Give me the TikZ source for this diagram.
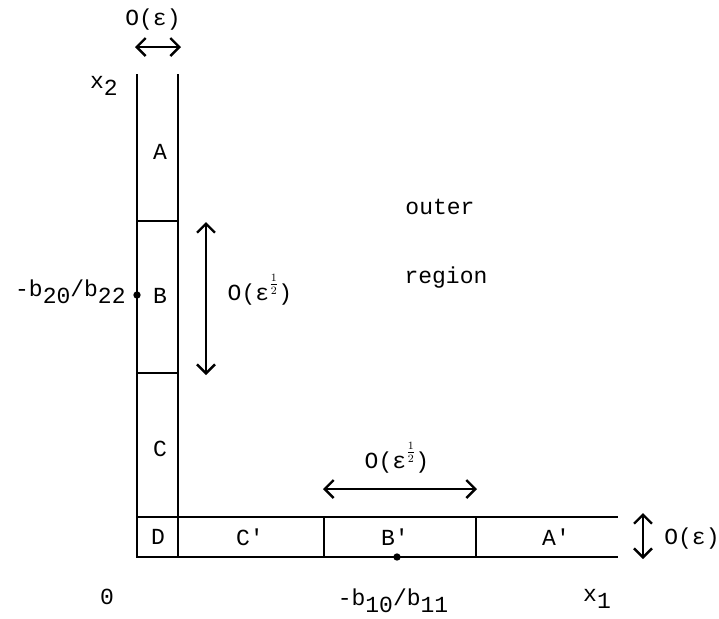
\documentclass[tikz,border=0pt]{standalone}
\usepackage{fontspec}
\setmainfont{Liberation Mono}[Ligatures=TeXOff]
\usetikzlibrary{arrows.meta}
\newcommand{\abajo}[1]{\raisebox{-0.55ex}{#1}}
\newcommand{\mitad}{\raisebox{1.0ex}{\scalebox{0.7}{$\frac{1}{2}$}}}

\begin{document}
\begin{tikzpicture}[
        x=0.5pt, y=-0.5pt,
        linea/.style={
            line width=1.1pt
        },
        flecha/.style={
            {Straight Barb[length=4.5pt,width=9pt]}-{Straight Barb[length=4.5pt,width=9pt]},
            line width=1.2pt
        },
        etiqueta/.style={
            font=\fontsize{11.5}{13}\selectfont,
            inner sep=1pt
        },
        punto/.style={
            circle,
            fill=black,
            inner sep=1.3pt
        }
    ]

    \useasboundingbox (0,0) rectangle (719,618);

    % vertical strip
    \draw[linea] (137,74) -- (137,557) -- (618,557);
    \draw[linea] (178,74) -- (178,517) -- (618,517);
    \draw[linea] (137,221) -- (178,221);
    \draw[linea] (137,373) -- (178,373);
    \draw[linea] (137,517) -- (178,517);

    % horizontal strip
    \draw[linea] (178,517) -- (178,557);
    \draw[linea] (324,517) -- (324,557);
    \draw[linea] (476,517) -- (476,557);

    % region labels
    \node[etiqueta] (A) at (160,152) {A};
    \node[etiqueta] (B) at (160,296) {B};
    \node[etiqueta] (C) at (160,449) {C};
    \node[etiqueta] (D) at (158,537) {D};
    \node[etiqueta] (Cp) at (250,537) {C'};
    \node[etiqueta] (Bp) at (395,537) {B'};
    \node[etiqueta] (Ap) at (556,537) {A'};

    \node[etiqueta] (outer) at (440,207) {outer};
    \node[etiqueta] (region) at (446,278) {region};

    % points
    \node[punto] (pB) at (137,295) {};
    \node[punto] (pBp) at (397,557) {};
    \node[etiqueta, anchor=east] (b2) at (128,292)
        {-b\abajo{20}/b\abajo{22}};
    \node[etiqueta] (b1) at (393,601)
        {-b\abajo{10}/b\abajo{11}};

    % axes labels
    \node[etiqueta] (xdos) at (104,86) {x\abajo{2}};
    \node[etiqueta] (xuno) at (597,599) {x\abajo{1}};
    \node[etiqueta] (cero) at (107,597) {0};

    % widths
    \coordinate (e1) at (135,47);
    \coordinate (e2) at (181,47);
    \draw[flecha] (e1) -- (e2);
    \node[etiqueta] (oe1) at (153,20) {O(ε)};

    \coordinate (h1) at (206,222);
    \coordinate (h2) at (206,375);
    \draw[flecha] (h1) -- (h2);
    \node[etiqueta] (oh1) at (260,290) {O(ε\mitad)};

    \coordinate (h3) at (323,489);
    \coordinate (h4) at (477,489);
    \draw[flecha] (h3) -- (h4);
    \node[etiqueta] (oh2) at (397,458) {O(ε\mitad)};

    \coordinate (e3) at (643,513);
    \coordinate (e4) at (643,559);
    \draw[flecha] (e3) -- (e4);
    \node[etiqueta] (oe2) at (692,539) {O(ε)};

\end{tikzpicture}
\end{document}
